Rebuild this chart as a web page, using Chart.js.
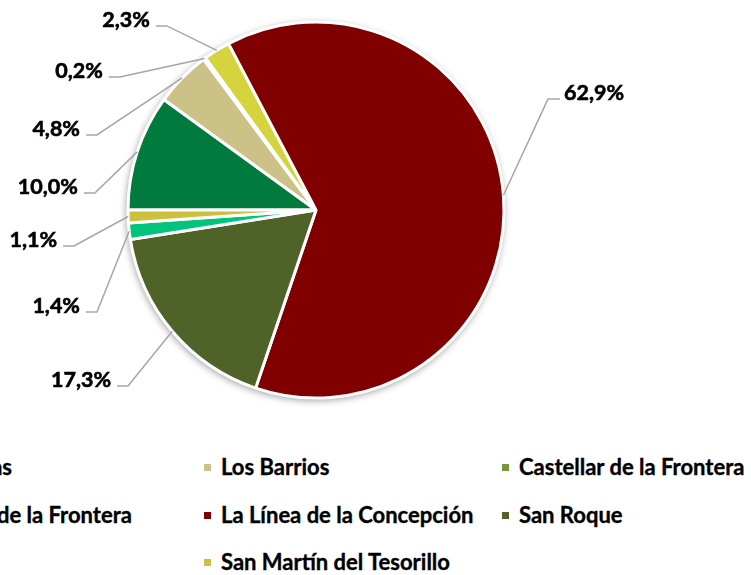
<!DOCTYPE html>
<html>
<head>
<meta charset="utf-8">
<script src="https://cdn.jsdelivr.net/npm/chart.js@4"></script>
<style>
  html, body { margin: 0; padding: 0; background: #fff; overflow: hidden; }
  #wrap { position: relative; width: 751px; height: 575px; overflow: hidden; }
  #c { position: absolute; left: 0; top: 0; }
  .lg { position: absolute; white-space: nowrap; font-family: Lato, "Open Sans", sans-serif; font-weight: 700; font-size: 22px; color: #000; line-height: 24px; -webkit-text-stroke: 0.35px #000; }
  .lg i { position: absolute; left: 0; top: 9px; width: 7px; height: 7px; }
  .lg span { position: absolute; left: 17px; top: 0; }
</style>
</head>
<body>
<div id="wrap">
  <canvas id="c" width="751" height="440"></canvas>
  <div id="legend"></div>
</div>
<script>
// ---- data ----
const categories = [
  "Algeciras",
  "Los Barrios",
  "Castellar de la Frontera",
  "Jimena de la Frontera",
  "La Línea de la Concepción",
  "San Roque",
  "Tarifa",
  "San Martín del Tesorillo"
];
const shares = [10.0, 4.8, 0.2, 2.3, 62.9, 17.3, 1.4, 1.1];
const percentLabels = ["10,0%", "4,8%", "0,2%", "2,3%", "62,9%", "17,3%", "1,4%", "1,1%"];

// ---- styles / layout ----
const sliceColors = ["#007A3D", "#CCC288", "#77933C", "#D6D43E", "#800000", "#4F6228", "#00C37E", "#CBC13F"];
// elbow of each leader line, relative to pie centre, in units of the radius
const labelElbows = [
  [-1.176, -0.090], [-1.165, -0.399], [-1.043, -0.707], [-0.793, -0.979],
  [1.234, -0.590], [-1.000, 0.936], [-1.165, 0.543], [-1.287, 0.191]
];

const shadowPlugin = {
  id: 'pieShadow',
  beforeDatasetsDraw(chart) {
    const arc = chart.getDatasetMeta(0).data[0];
    if (!arc) return;
    const ctx = chart.ctx;
    ctx.save();
    ctx.shadowColor = 'rgba(0,0,0,0.35)';
    ctx.shadowBlur = 7;
    ctx.shadowOffsetX = -1;
    ctx.shadowOffsetY = 2;
    ctx.beginPath();
    ctx.arc(arc.x, arc.y, arc.outerRadius + 1, 0, Math.PI * 2);
    ctx.fillStyle = '#ffffff';
    ctx.fill();
    ctx.restore();
  }
};

const labelPlugin = {
  id: 'leaderLabels',
  afterDatasetsDraw(chart) {
    const ctx = chart.ctx;
    const meta = chart.getDatasetMeta(0);
    ctx.save();
    ctx.font = '700 21.5px Lato, "Open Sans", sans-serif';
    ctx.strokeStyle = '#A6A6A6';
    ctx.lineWidth = 1.5;
    meta.data.forEach((arc, i) => {
      const R = arc.outerRadius;
      const mid = (arc.startAngle + arc.endAngle) / 2;
      const sx = arc.x + Math.cos(mid) * R;
      const sy = arc.y + Math.sin(mid) * R;
      const ex = arc.x + labelElbows[i][0] * R;
      const ey = arc.y + labelElbows[i][1] * R;
      const right = labelElbows[i][0] > 0;
      const hx = ex + (right ? 12 : -11);
      ctx.beginPath();
      ctx.moveTo(sx, sy);
      ctx.lineTo(ex, ey);
      ctx.lineTo(hx, ey);
      ctx.stroke();
      ctx.textBaseline = 'middle';
      ctx.textAlign = right ? 'left' : 'right';
      const tx = hx + (right ? 4 : -6), ty = ey - 6;
      ctx.fillStyle = '#000';
      ctx.lineWidth = 0.6;
      ctx.strokeStyle = '#000';
      ctx.strokeText(percentLabels[i], tx, ty);
      ctx.fillText(percentLabels[i], tx, ty);
      ctx.strokeStyle = '#A6A6A6';
      ctx.lineWidth = 1.5;
    });
    ctx.restore();
  }
};

const chart = new Chart(document.getElementById('c'), {
  type: 'pie',
  data: {
    labels: categories,
    datasets: [{
      data: shares,
      backgroundColor: sliceColors,
      borderColor: '#ffffff',
      borderWidth: 3
    }]
  },
  options: {
    responsive: false,
    animation: false,
    devicePixelRatio: 1,
    rotation: 270,
    radius: 188,
    layout: { padding: { left: 116, right: 235, top: 10, bottom: 30 } },
    plugins: {
      legend: { display: false },
      tooltip: { enabled: false }
    }
  },
  plugins: [shadowPlugin, labelPlugin]
});

// ---- HTML legend built from the chart's own data ----
const legendEl = document.getElementById('legend');
const colX0 = -94, colW = 298;
const rowTop = [455, 503, 550];
chart.data.labels.forEach((name, i) => {
  const row = Math.floor(i / 3), col = i % 3;
  const d = document.createElement('div');
  d.className = 'lg';
  d.style.left = (colX0 + col * colW) + 'px';
  d.style.top = rowTop[row] + 'px';
  const sq = document.createElement('i');
  sq.style.background = chart.data.datasets[0].backgroundColor[i];
  const t = document.createElement('span');
  t.textContent = name;
  d.appendChild(sq); d.appendChild(t);
  legendEl.appendChild(d);
});
</script>
</body>
</html>
